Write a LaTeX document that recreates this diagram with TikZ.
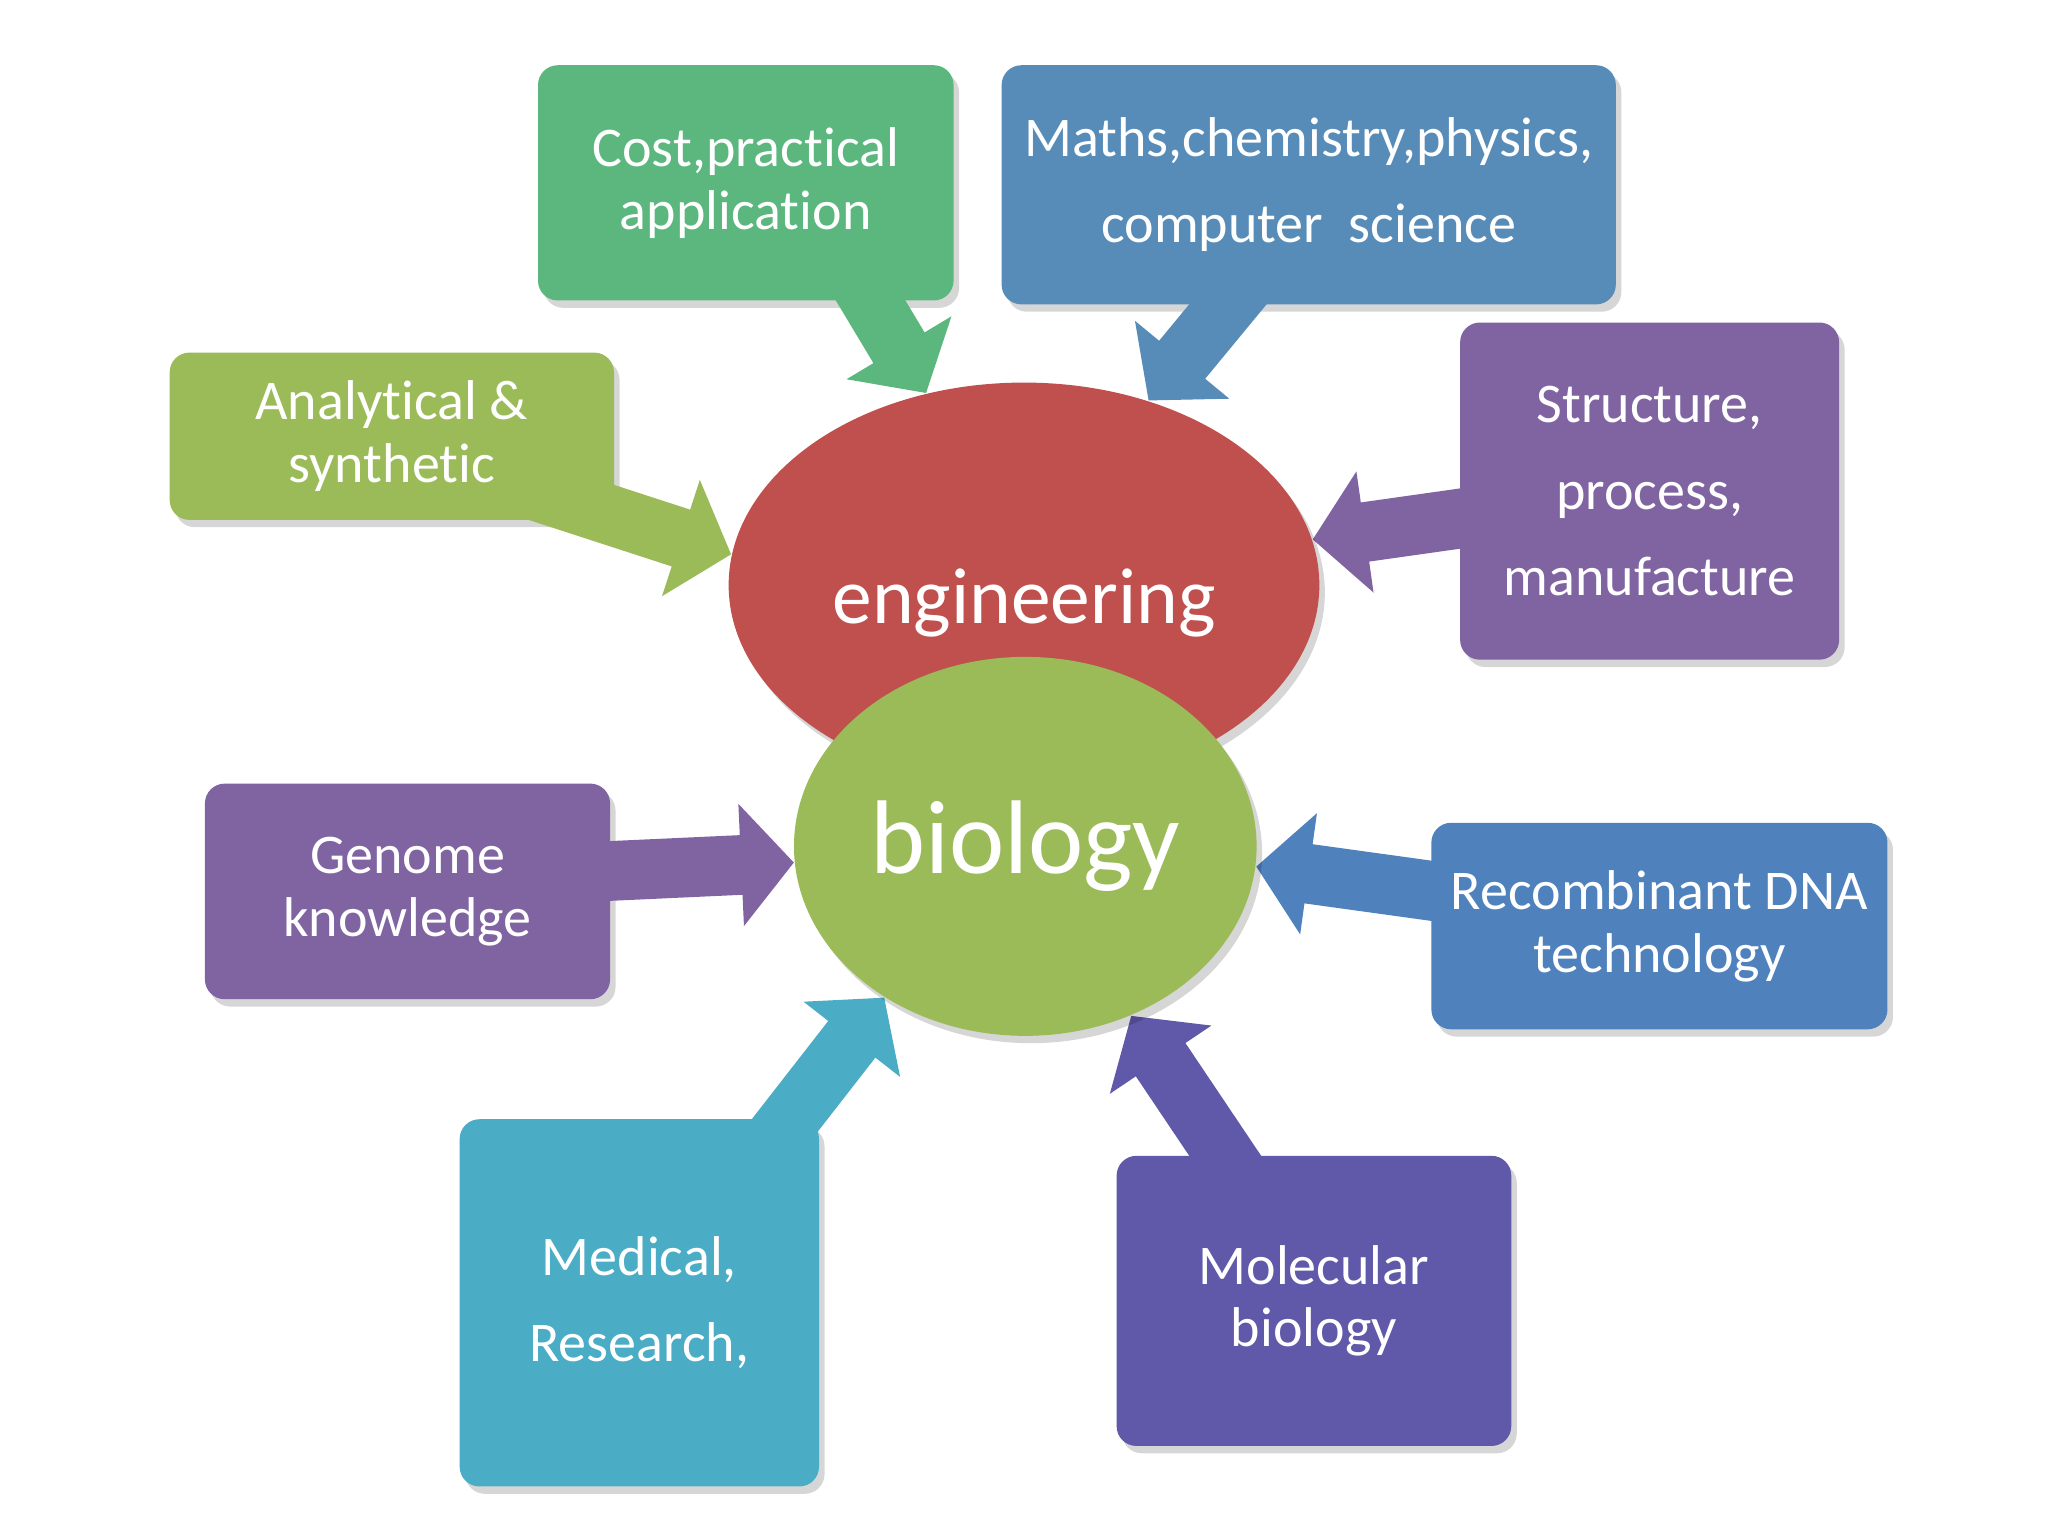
\documentclass[tikz,border=0pt]{standalone}
\usepackage{fontspec}
\setmainfont{Carlito}[Ligatures=NoCommon]
\usetikzlibrary{arrows.meta,shapes.geometric,shadows}
\definecolor{cGreenA}{RGB}{92,183,127}
\definecolor{cBlueA}{RGB}{88,140,184}
\definecolor{cPurple}{RGB}{128,100,162}
\definecolor{cLime}{RGB}{155,187,89}
\definecolor{cBlueB}{RGB}{79,129,189}
\definecolor{cTeal}{RGB}{75,172,198}
\definecolor{cIndigo}{RGB}{96,88,168}
\definecolor{cRed}{RGB}{192,80,77}
\pgfdeclarelayer{paper}
\pgfdeclarelayer{boxlayer}
\pgfdeclarelayer{arrowlayer}
\pgfsetlayers{paper,boxlayer,arrowlayer,main}
\tikzset{
  softshadow/.style={drop shadow={shadow xshift=1.2pt, shadow yshift=-1.6pt, opacity=0.16, fill=black}},
  box/.style={rectangle, rounded corners=4.3pt, draw=none, text=white, align=center, inner sep=0pt, softshadow},
  txt/.style={font=\fontsize{12.2}{13.7}\selectfont},
  txtwide/.style={font=\fontsize{12.2}{18.8}\selectfont},
  blockarrow/.style={line width=13pt, -{Triangle[length=11.5pt,width=26pt]}},
}
\begin{document}
\begin{tikzpicture}[x=0.01cm, y=-0.01cm]
\begin{pgfonlayer}{paper}
\fill[white] (0,0) rectangle (1568,1176);
\end{pgfonlayer}
\useasboundingbox (0,0) rectangle (1568,1176);

% central ellipses (top layer)
\node[ellipse, fill=cRed, minimum width=4.52cm, minimum height=3.10cm, inner sep=0pt, softshadow] (eng) at (784,448) {};
\node[text=white, font=\fontsize{17.3}{20}\selectfont, inner sep=0pt] (engt) at (784,462) {engineering};
\node[ellipse, fill=cLime, minimum width=3.54cm, minimum height=2.90cm, inner sep=0pt, text=white, font=\fontsize{22.8}{27}\selectfont, softshadow] (bio) at (785,648) {biology};

% boxes (bottom layer)
\begin{pgfonlayer}{boxlayer}
\node[box, fill=cGreenA, minimum width=3.18cm, minimum height=1.80cm, txt] (cost) at (571,140) {Cost,practical\\application};
\node[box, fill=cBlueA, minimum width=4.70cm, minimum height=1.83cm, txtwide] (maths) at (1002,141.5) {Maths,chemistry,physics,\\computer\ \ science};
\node[box, fill=cPurple, minimum width=2.90cm, minimum height=2.58cm, txtwide] (struct) at (1263,376) {Structure,\\process,\\manufacture};
\node[box, fill=cLime, minimum width=3.40cm, minimum height=1.28cm, txt] (anal) at (300,334) {Analytical \&\\synthetic};
\node[box, fill=cPurple, minimum width=3.10cm, minimum height=1.65cm, txt] (genome) at (312,682.5) {Genome\\knowledge};
\node[box, fill=cBlueB, minimum width=3.49cm, minimum height=1.58cm, txt] (recomb) at (1270.5,709) {Recombinant DNA\\technology};
\node[box, fill=cTeal, minimum width=2.75cm, minimum height=2.81cm, txtwide] (medical) at (489.5,997.5) {Medical,\\Research,};
\node[box, fill=cIndigo, minimum width=3.02cm, minimum height=2.22cm, txt] (molec) at (1006,996) {Molecular\\biology};
\end{pgfonlayer}

% block arrows, over the boxes and under the ellipses
\begin{pgfonlayer}{arrowlayer}
\draw[blockarrow, cGreenA] ([shift={(84,-20)}]cost.south) -- (eng.117);
\draw[blockarrow, cBlueA] ([shift={(-46,-20)}]maths.south) -- (eng.56);
\draw[blockarrow, cPurple] ([shift={(15,19)}]struct.west) -- (eng.9);
\draw[blockarrow, cLime] ([shift={(-70,-26)}]anal.south east) -- (eng.174);
\draw[blockarrow, cPurple] ([shift={(-15,-15)}]genome.east) -- (bio.184);
\draw[blockarrow, cBlueB] ([shift={(15,-25)}]recomb.west) -- (bio.-5.5);
\draw[blockarrow, cTeal] ([shift={(100,20)}]medical.north) -- (bio.227);
\draw[blockarrow, cIndigo] ([shift={(-55,20)}]molec.north) -- (bio.-58);
\end{pgfonlayer}
\end{tikzpicture}
\end{document}
